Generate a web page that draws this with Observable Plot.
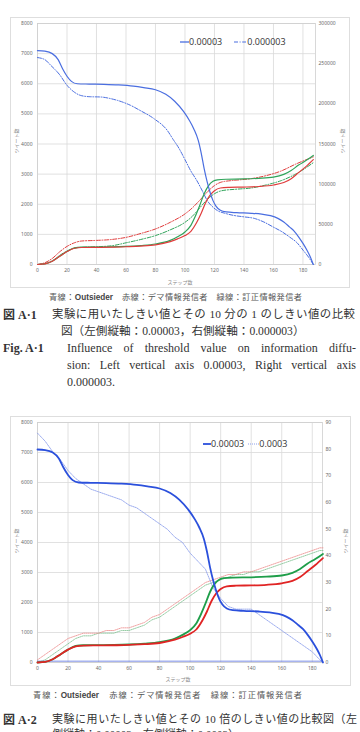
<!DOCTYPE html>
<html><head><meta charset="utf-8">
<script src="https://cdn.jsdelivr.net/npm/d3@7"></script>
<script src="https://cdn.jsdelivr.net/npm/@observablehq/plot@0.6"></script>
<style>
body{margin:0;width:360px;height:732px;overflow:hidden;background:#fff;position:relative;font-family:"Noto Sans CJK JP","Noto Sans",sans-serif}
.box{position:absolute;border:1px solid #dedede;box-sizing:content-box}
.box svg{display:block}
.ttl{position:absolute;font-size:5px;color:#8a8a8a;white-space:nowrap;line-height:1}
.rot{transform:translate(-50%,-50%) rotate(-90deg)}
.leg{position:absolute;font-family:"Open Sans","Liberation Sans",sans-serif;font-size:9px;color:#333;white-space:nowrap;line-height:1;display:flex;align-items:center}
.cap{position:absolute;font-size:8.2px;color:#555;line-height:1;white-space:nowrap;text-align:justify;text-align-last:justify}
.cap b{font-family:"Liberation Sans",Arial,sans-serif;font-weight:bold;color:#444}
.ser{position:absolute;font-family:"Liberation Serif","DejaVu Serif","Noto Sans CJK JP",serif;font-size:12px;line-height:1;color:#333;white-space:nowrap}
.j{text-align:justify;text-align-last:justify}
.fig{font-weight:bold}
</style></head><body>
<div id="c1" class="box" style="left:10px;top:17px;width:338px;height:269px"></div>
<div id="c2" class="box" style="left:10px;top:416px;width:339px;height:268px"></div>
<script>
// ---------- data (0.00003, left axis, step -> tweets) ----------
const blueSolidX = [0,5,10,14,17,20,23,27,35,45,55,65,72,80,87,93,99,103,106,109,111,113,115,117,119,121,124,128,135,145,152,158,163,167,171,174,177,180,183,185,187];
const blueSolidY = [7100,7080,7000,6800,6500,6250,6080,6000,5990,5980,5960,5920,5870,5800,5650,5420,5080,4780,4500,4120,3700,3180,2750,2400,2120,1940,1800,1745,1720,1700,1670,1620,1530,1410,1240,1110,920,700,450,250,0];
const redSolidX = [0,5,10,15,20,25,30,40,50,60,70,80,90,95,100,104,108,111,114,117,120,124,130,140,150,160,167,172,177,182,187];
const redSolidY = [0,20,110,270,430,540,565,570,575,590,610,650,760,850,960,1100,1400,1700,2050,2300,2450,2540,2560,2570,2590,2640,2720,2850,3050,3250,3480];
const greenSolidX = [0,5,10,15,20,25,30,40,50,60,70,80,90,95,100,104,107,110,113,116,119,122,128,140,150,160,167,172,177,182,187];
const greenSolidY = [0,20,110,270,430,550,575,580,585,600,630,680,800,920,1080,1300,1600,1960,2350,2620,2760,2810,2830,2840,2860,2900,2990,3120,3300,3450,3620];

// ---------- data (0.000003, right axis of Fig. A-1) ----------
const blueDashX = [0,5,9,15,20,25,29,35,43,50,54,63,70,79,88,92,96,100,104,108,112,115,119,122,127,133,140,147,153,160,166,171,176,180,184,187];
const blueDashY = [257600,255000,247900,236300,223100,214500,210600,208900,208500,206300,204400,198200,191300,181500,166900,155600,144400,130500,116300,104600,90800,79900,71300,67100,63800,61100,59300,57400,53300,46500,40500,34100,27000,18000,8600,0];
const redDashX = [0,5,10,15,20,25,30,40,50,60,70,80,90,100,105,110,115,120,125,135,145,155,165,175,187];
const redDashY = [0,2250,7500,15750,22500,27000,29250,30000,31100,33750,38600,44250,52500,63000,70500,79900,90000,98250,102750,105000,106900,110600,116250,124900,133900];
const greenDashX = [0,5,10,15,20,25,30,40,50,60,70,80,90,100,105,110,115,120,125,135,145,155,165,175,187];
const greenDashY = [0,1125,4500,11250,16875,20250,21375,22125,23250,27000,31125,36000,43125,52500,60000,70500,80625,88125,91875,93750,95250,99000,104250,112500,126750];

// ---------- data (0.0003, right axis of Fig. A-2) ----------
const dotX = [0,5,10,15,20,25,30,35,40,45,50,55,60,65,70,75,80,85,90,95,100,105,110,115,120,125,130,135,140,145,150,155,160,165,170,175,180,185,187];
const blueDotY = [86,83,79,76,72,69,67,65,64,63,62,61,59,58,56,54,52,50,47,45,41,38,35,28,24,21,20,20,20,18,16,14,12,10,8,6,4,1,0];
const redDotY = [1,3,5,7,9,10,11,11,11,12,12,13,13,14,15,17,18,20,22,24,26,28,30,31,32,33,33,34,34,35,36,37,38,39,40,41,42,43,43];
const greenDotY = [0,1,3,5,7,9,10,10,11,11,11,12,12,13,14,16,17,19,21,23,25,27,29,30,31,32,33,33,34,34,35,36,37,38,39,40,41,42,42];
const baseDotX = [0,187];
const baseDotY = [0.5,0.5];

// ---------- ticks ----------
const xTicks = [0,20,40,60,80,100,120,140,160,180];
const leftTicks = [0,1000,2000,3000,4000,5000,6000,7000,8000];
const right1Ticks = [0,50000,100000,150000,200000,250000,300000];
const right2Ticks = [0,10,20,30,40,50,60,70,80,90];

const rows = (xs, ys) => xs.map((x, i) => ({x, y: ys[i]}));

function chart(o) {
  const k = 8000 / o.rightMax;
  const marks = [
    Plot.gridX(xTicks, {stroke: "#d9d9d9", strokeOpacity: 1, strokeWidth: 0.8}),
    Plot.gridY(leftTicks, {stroke: "#d9d9d9", strokeOpacity: 1, strokeWidth: 0.8}),
    Plot.frame({stroke: "#cfcfcf", strokeWidth: 0.8}),
    Plot.axisX(xTicks, {tickSize: 0, tickPadding: 4, label: null, tickFormat: d => String(d)}),
    Plot.axisY(leftTicks, {anchor: "left", tickSize: 0, tickPadding: 5, label: null, tickFormat: d => String(d)}),
    Plot.axisY(o.rightTicks.map(t => t * k), {anchor: "right", tickSize: 0, tickPadding: 3, label: null, tickFormat: d => String(Math.round(d / k))})
  ];
  for (const s of o.series) {
    marks.push(Plot.line(s.data, {
      x: "x",
      y: s.right ? (d => d.y * k) : "y",
      stroke: s.color, strokeWidth: s.w, strokeDasharray: s.dash, curve: s.curve
    }));
  }
  return Plot.plot({
    width: o.width, height: o.height,
    marginLeft: 26, marginRight: o.marginRight, marginTop: 5, marginBottom: 23,
    x: {domain: [0, o.xMax]},
    y: {domain: [0, 8000]},
    style: {fontSize: "5px", color: "#6a6a6a", fontFamily: "'Noto Sans', sans-serif", background: "transparent", overflow: "visible"},
    marks
  });
}

const BLUE = "#4a6ee0", RED = "#e03c3c", GREEN = "#2fa45a";
const DASHDOT = "4,1.6,1,1.6";

document.getElementById("c1").appendChild(chart({
  width: 338, height: 269, marginRight: 34, xMax: 188.5, rightMax: 300000, rightTicks: right1Ticks,
  series: [
    {data: rows(greenDashX, greenDashY), right: true, color: GREEN, w: 1, dash: DASHDOT, curve: "monotone-x"},
    {data: rows(redDashX, redDashY), right: true, color: RED, w: 1, dash: DASHDOT, curve: "monotone-x"},
    {data: rows(blueDashX, blueDashY), right: true, color: BLUE, w: 1, dash: DASHDOT, curve: "monotone-x"},
    {data: rows(greenSolidX, greenSolidY), color: GREEN, w: 1.2, curve: "monotone-x"},
    {data: rows(redSolidX, redSolidY), color: RED, w: 1.2, curve: "monotone-x"},
    {data: rows(blueSolidX, blueSolidY), color: BLUE, w: 1.2, curve: "monotone-x"}
  ]
}));

document.getElementById("c2").appendChild(chart({
  width: 339, height: 268, marginRight: 28, xMax: 186.7, rightMax: 90, rightTicks: right2Ticks,
  series: [
    {data: rows(dotX, greenDotY), right: true, color: "#7cc08f", w: 0.8, dash: "1,1", curve: "linear"},
    {data: rows(dotX, redDotY), right: true, color: "#ec8a8a", w: 0.8, dash: "1,1", curve: "linear"},
    {data: rows(dotX, blueDotY), right: true, color: "#8296ea", w: 0.8, dash: "1,1", curve: "linear"},
    {data: rows(baseDotX, baseDotY), right: true, color: "#5a72e0", w: 0.9, dash: "1,1", curve: "linear"},
    {data: rows(greenSolidX, greenSolidY), color: "#1f9e4a", w: 1.8, curve: "monotone-x"},
    {data: rows(redSolidX, redSolidY), color: "#e02424", w: 1.8, curve: "monotone-x"},
    {data: rows(blueSolidX, blueSolidY), color: "#2b50dc", w: 1.8, curve: "monotone-x"}
  ]
}));
</script>

<!-- axis titles chart 1 -->
<div class="ttl rot" style="left:15px;top:141px">ツイート数</div>
<div class="ttl rot" style="left:341px;top:141px">ツイート数</div>
<div class="ttl" style="left:180px;top:281px;transform:translate(-50%,-50%)">ステップ数</div>
<!-- legend chart 1 -->
<div class="leg" style="left:180px;top:37px">
  <svg width="9" height="4"><line x1="0" y1="2" x2="9" y2="2" stroke="#4a6ee0" stroke-width="1.3"/></svg>
  <span>0.00003</span>
  <svg width="12" height="4" style="margin-left:12px"><line x1="0" y1="2" x2="12" y2="2" stroke="#4a6ee0" stroke-width="1.1" stroke-dasharray="4,1.6,1,1.6"/></svg>
  <span style="margin-left:1px">0.000003</span>
</div>

<!-- axis titles chart 2 -->
<div class="ttl rot" style="left:15px;top:541px">ツイート数</div>
<div class="ttl rot" style="left:344px;top:541px">ツイート数</div>
<div class="ttl" style="left:178px;top:678px;transform:translate(-50%,-50%)">ステップ数</div>
<!-- legend chart 2 -->
<div class="leg" style="left:203px;top:439px">
  <svg width="8" height="4"><line x1="0" y1="2" x2="8" y2="2" stroke="#2b50dc" stroke-width="1.8"/></svg>
  <span>0.00003</span>
  <svg width="11" height="4" style="margin-left:4px"><line x1="0" y1="2" x2="11" y2="2" stroke="#8296ea" stroke-width="0.9" stroke-dasharray="1,1"/></svg>
  <span>0.0003</span>
</div>

<!-- captions chart 1 -->
<div class="cap" style="left:49px;top:292px;width:253px">青線：<b>Outsieder</b>　赤線：デマ情報発信者　緑線：訂正情報発信者</div>
<div class="ser fig" style="left:3px;top:309px">図 A·1</div>
<div class="ser j" style="left:52px;top:309px;width:303px;font-size:11.4px">実験に用いたしきい値とその 10 分の 1 のしきい値の比較</div>
<div class="ser" style="left:61px;top:326px;font-size:11.6px">図（左側縦軸：0.00003，右側縦軸：0.000003）</div>
<div class="ser fig" style="left:3px;top:342px">Fig. A·1</div>
<div class="ser j" style="left:67px;top:342px;width:289px">Influence of threshold value on information diffu-</div>
<div class="ser j" style="left:67px;top:359px;width:289px">sion: Left vertical axis 0.00003, Right vertical axis</div>
<div class="ser" style="left:67px;top:376px">0.000003.</div>

<!-- captions chart 2 -->
<div class="cap" style="left:33px;top:690px;width:269px">青線：<b>Outsieder</b>　赤線：デマ情報発信者　緑線：訂正情報発信者</div>
<div class="ser fig" style="left:3px;top:714px">図 A·2</div>
<div class="ser j" style="left:52px;top:714px;width:305px;font-size:11px">実験に用いたしきい値とその 10 倍のしきい値の比較図（左</div>
<div class="ser" style="left:52px;top:729px;font-size:11px">側縦軸：0.00003，右側縦軸：0.0003）</div>
</body></html>
